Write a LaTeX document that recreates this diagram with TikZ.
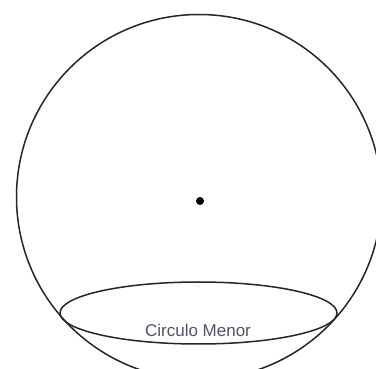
\documentclass[tikz,border=0pt]{standalone}
\usepackage{fontspec}
\setsansfont{Liberation Sans}
\usetikzlibrary{shapes.geometric}
\definecolor{labelgray}{RGB}{85,80,105}
\begin{document}
\begin{tikzpicture}[x=1pt,y=-1pt,
  outline/.style={draw=black!85,line width=1.5pt},
  lbl/.style={font=\sffamily\fontsize{17}{19}\selectfont,text=labelgray}]
\useasboundingbox (0,0) rectangle (376,369);
\fill[white] (0,0) rectangle (376,369);
\begin{scope}
\clip (0,0) rectangle (376,369);
\node[outline,circle,minimum size=365pt,inner sep=0pt] (sphere) at (199,197) {};
\end{scope}
\node[circle,fill=black,minimum size=8pt,inner sep=0pt] (centre) at (200,201) {};
\node[outline,ellipse,minimum width=277pt,minimum height=62pt,inner sep=0pt] (minor) at (198.5,313) {};
\node[lbl] (label) at (198,330) {Circulo Menor};
\end{tikzpicture}
\end{document}
